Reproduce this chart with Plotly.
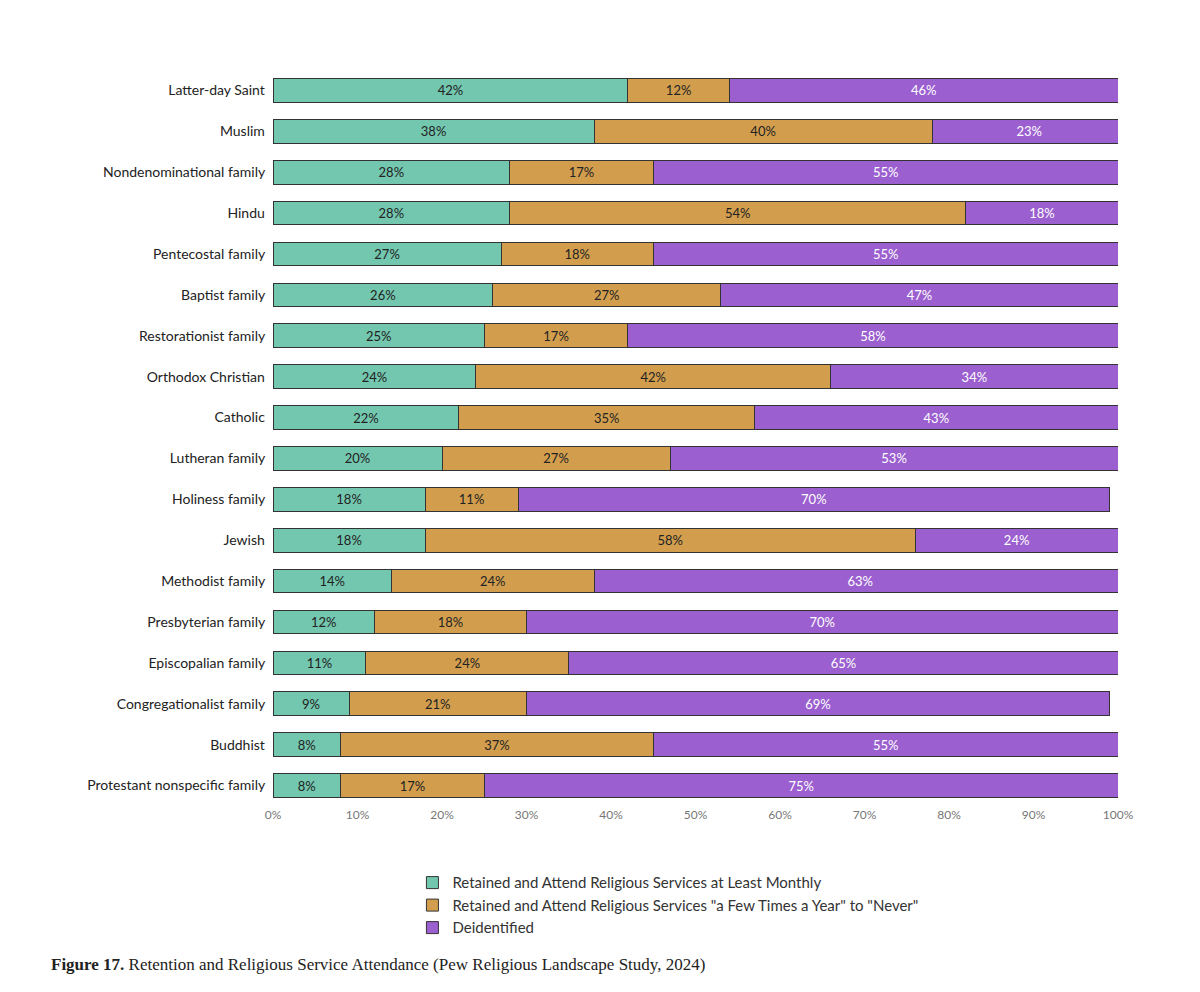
import plotly.graph_objects as go

groups = ["Latter-day Saint", "Muslim", "Nondenominational family", "Hindu", "Pentecostal family",
          "Baptist family", "Restorationist family", "Orthodox Christian", "Catholic", "Lutheran family",
          "Holiness family", "Jewish", "Methodist family", "Presbyterian family", "Episcopalian family",
          "Congregationalist family", "Buddhist", "Protestant nonspecific family"]
monthly = [42, 38, 28, 28, 27, 26, 25, 24, 22, 20, 18, 18, 14, 12, 11, 9, 8, 8]
few_never = [12, 40, 17, 54, 18, 27, 17, 42, 35, 27, 11, 58, 24, 18, 24, 21, 37, 17]
deidentified = [46, 23, 55, 18, 55, 47, 58, 34, 43, 53, 70, 24, 63, 70, 65, 69, 55, 75]

series = [
    ("Retained and Attend Religious Services at Least Monthly", monthly, "#72C7AE", "#222"),
    ('Retained and Attend Religious Services "a Few Times a Year" to "Never"', few_never, "#D29E4E", "#222"),
    ("Deidentified", deidentified, "#9B5FCF", "white"),
]

fig = go.Figure()
for name, vals, color, tcolor in series:
    fig.add_trace(go.Bar(y=groups, x=vals, name=name, orientation="h",
                         marker=dict(color=color, line=dict(color="#333", width=1)),
                         text=[f"{v}%" for v in vals], textposition="inside",
                         insidetextanchor="middle", textangle=0,
                         textfont=dict(color=tcolor, size=13, family="Lato")))

fig.update_layout(
    barmode="stack", bargap=0.42,
    width=1200, height=992,
    plot_bgcolor="white", paper_bgcolor="white",
    margin=dict(l=265, r=90, t=62, b=194, autoexpand=False),
    font=dict(family="Lato", size=14, color="#222"),
    uniformtext=dict(minsize=13, mode="show"),
    legend=dict(orientation="v", x=0.165, xanchor="left", y=-0.082, yanchor="top",
                font=dict(size=15, color="#333"), itemwidth=30,
                traceorder="normal"),
    xaxis=dict(range=[0, 100], ticksuffix="%", dtick=10, showgrid=False, automargin=False,
               tickfont=dict(size=12, color="#777"), zeroline=False),
    yaxis=dict(autorange="reversed", ticksuffix="  ", automargin=False,
               tickfont=dict(size=14, color="#222")),
)
fig.add_annotation(xref="paper", yref="paper", x=-0.265, y=-0.2, xanchor="left", yanchor="top",
                   showarrow=False, align="left",
                   text="<b>Figure 17.</b> Retention and Religious Service Attendance (Pew Religious Landscape Study, 2024)",
                   font=dict(family="Liberation Serif", size=17, color="#222"))
fig.write_html("out.html")
